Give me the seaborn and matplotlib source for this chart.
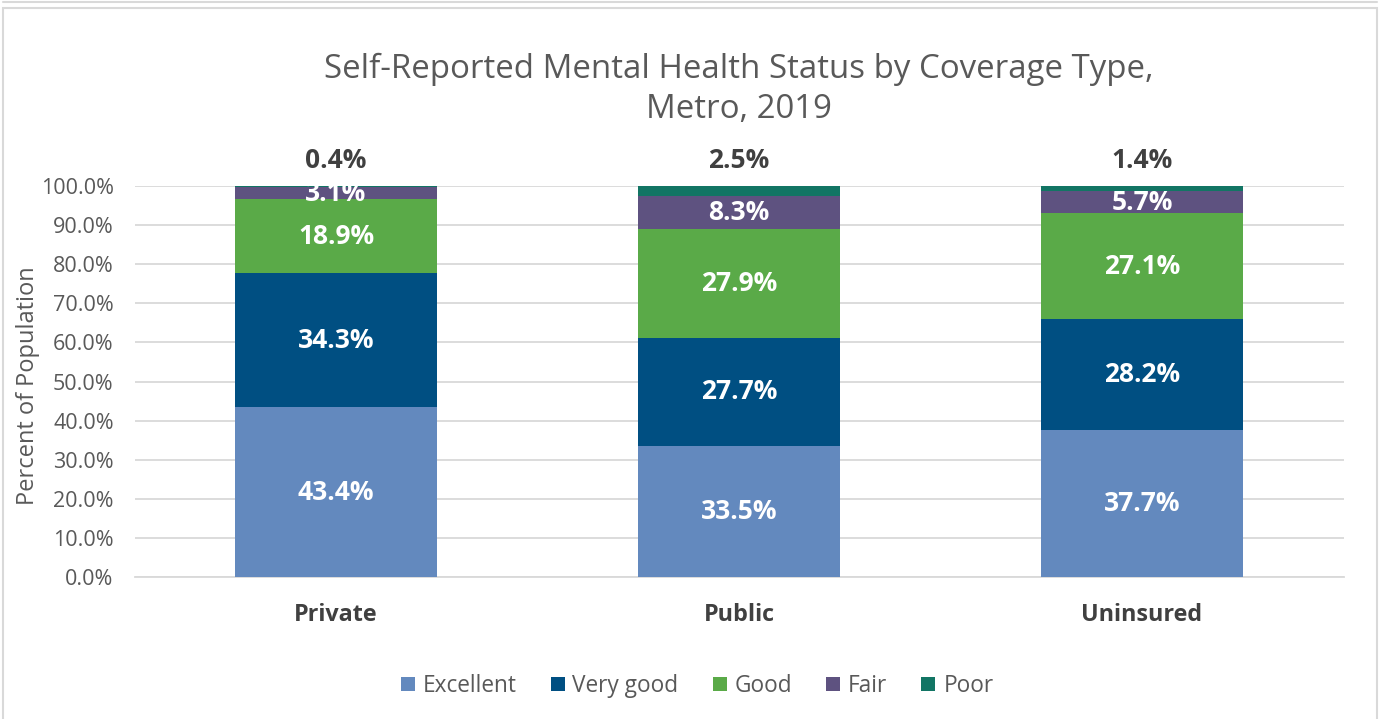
import matplotlib
matplotlib.use("Agg")
import matplotlib.pyplot as plt
import seaborn as sns
import pandas as pd
import numpy as np
from matplotlib.patches import Rectangle
from matplotlib.lines import Line2D

categories = ["Private", "Public", "Uninsured"]
statuses = ["Excellent", "Very good", "Good", "Fair", "Poor"]
excellent = [43.4, 33.5, 37.7]
very_good = [34.3, 27.7, 28.2]
good = [18.9, 27.9, 27.1]
fair = [3.1, 8.3, 5.7]
poor = [0.4, 2.5, 1.4]
colors = ["#6389BE", "#004F82", "#5AAA48", "#5E5280", "#127564"]
yticks = [0, 10, 20, 30, 40, 50, 60, 70, 80, 90, 100]

series = [excellent, very_good, good, fair, poor]
rows = []
for s, vals in zip(statuses, series):
    for c, v in zip(categories, vals):
        rows.append({"Coverage": c, "Status": s, "Value": v})
df = pd.DataFrame(rows)

sns.set_style("white")
plt.rcParams["font.family"] = ["Open Sans", "DejaVu Sans"]

fig = plt.figure(figsize=(13.8, 7.19), dpi=100)
ax = fig.add_axes([134.5 / 1380, 1 - 577 / 719, (1343.5 - 134.5) / 1380, (577 - 186) / 719])

bottom = np.zeros(len(categories))
for s, col in zip(statuses, colors):
    sub = df[df["Status"] == s].set_index("Coverage").loc[categories].reset_index()
    sns.barplot(data=sub, x="Coverage", y="Value", color=col, width=0.5,
                bottom=bottom, ax=ax, saturation=1, zorder=3, order=categories,
                linewidth=0, edgecolor="none")
    vals = sub["Value"].to_numpy()
    for i, v in enumerate(vals):
        if s == "Poor":
            ax.annotate(f"{v:.1f}%", (i, 100), xytext=(0, 9), textcoords="offset points",
                        ha="center", va="bottom", fontsize=19, fontweight="bold", color="#404040")
        else:
            ax.text(i, bottom[i] + v / 2, f"{v:.1f}%", ha="center", va="center",
                    fontsize=19, fontweight="bold", color="white", zorder=5)
    bottom = bottom + vals

ax.set_xlim(-0.5, 2.5)
ax.set_ylim(0, 100)
ax.set_yticks(yticks)
ax.set_yticklabels([f"{t:.1f}%" for t in yticks], fontsize=15.5, color="#595959")
ax.set_xticklabels(categories, fontsize=16.8, fontweight="bold", color="#404040")
ax.tick_params(axis="x", length=0, pad=19)
ax.tick_params(axis="y", length=0, pad=15)
ax.yaxis.grid(True, color="#D9D9D9", linewidth=1.3, zorder=0)
ax.set_axisbelow(True)
for sp in ["top", "right", "left"]:
    ax.spines[sp].set_visible(False)
ax.spines["bottom"].set_color("#D9D9D9")
ax.spines["bottom"].set_linewidth(1.3)
ax.set_xlabel("")
ax.set_ylabel("Percent of Population", fontsize=17, color="#595959")
ax.yaxis.set_label_coords((40 - 134.5) / 1209, 0.49)

fig.text(0.5355, 1 - 69 / 719, "Self-Reported Mental Health Status by Coverage Type,",
         ha="center", va="center", fontsize=23.8, color="#595959")
fig.text(0.5355, 1 - 110 / 719, "Metro, 2019",
         ha="center", va="center", fontsize=23.8, color="#595959")

handles = [Rectangle((0, 0), 1, 1, facecolor=c, edgecolor="none") for c in colors]
fig.legend(handles, statuses, loc="center", bbox_to_anchor=(697 / 1380, 1 - 686 / 719),
           ncol=5, frameon=False, fontsize=16.3, handlelength=0.62, handleheight=0.62,
           handletextpad=0.35, columnspacing=1.5, labelcolor="#595959")

fig.patches.append(Rectangle((3 / 1380, -0.01), 1374 / 1380, 1 - 8 / 719 + 0.01,
                             transform=fig.transFigure, fill=False,
                             edgecolor="#D9D9D9", linewidth=1.5))
fig.lines.append(Line2D([3 / 1380, 1377 / 1380], [1 - 2 / 719, 1 - 2 / 719],
                        transform=fig.transFigure, color="#D9D9D9", linewidth=1.5))

fig.savefig("out.png", dpi=100)
